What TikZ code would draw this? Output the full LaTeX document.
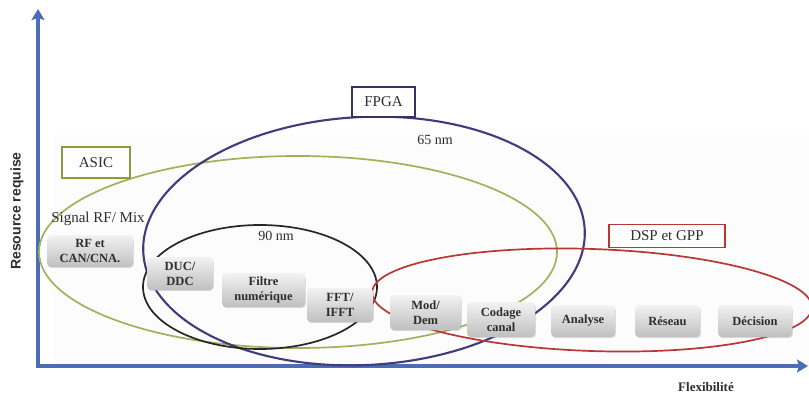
\documentclass[tikz,border=0pt]{standalone}
\usepackage{fontspec}
\setmainfont{Liberation Serif}
\newfontfamily\axisfont{Liberation Sans}
\usetikzlibrary{arrows.meta,shadows}

\definecolor{axisblue}{HTML}{4A6DB5}
\definecolor{asicgreen}{HTML}{A0B25A}
\definecolor{asicframe}{HTML}{8C9B3E}
\definecolor{fpganavy}{HTML}{3E3C7C}
\definecolor{fpgaframe}{HTML}{3A2F66}
\definecolor{dspred}{HTML}{B93636}
\definecolor{inktext}{HTML}{2E2E2E}

\tikzset{
  axisline/.style={draw=axisblue, line width=3.4pt, -{Stealth[length=11pt,width=13pt,inset=2pt]}},
  block/.style={rounded corners=4pt, top color=gray!10, bottom color=gray!50, draw=none,
    drop shadow={opacity=0.25, shadow xshift=0.8pt, shadow yshift=-1.2pt},
    font=\fontsize{12.5}{15}\selectfont\bfseries, text=inktext, align=center, inner sep=0pt},
  tagbox/.style={fill=white, line width=1.8pt, inner sep=0pt,
    font=\fontsize{15}{17}\selectfont, text=inktext},
  plain/.style={text=inktext, inner sep=0pt},
}

\begin{document}
\begin{tikzpicture}[x=1pt, y=-1pt]
  % canvas and faint plot background
  \fill[white] (0,0) rectangle (809,396);
  \useasboundingbox (0,0) rectangle (809,396);
  \fill[black!1.2] (53,135) rectangle (809,367);

  % axes
  \coordinate (o) at (38,367);
  \coordinate (ytop) at (38,9);
  \coordinate (xend) at (808,366);
  \draw[axisline] (38,368) -- (ytop);
  \draw[axisline] (37,366) -- (xend);

  % technology domains
  \draw[asicgreen, line width=1.7pt] (298,252) ellipse (259 and 96);
  \draw[fpganavy, line width=2.1pt, rotate around={3:(364,241)}] (364,241) ellipse (221 and 124);
  \draw[black!85, line width=1.7pt] (260,287) ellipse (117 and 62);
  \draw[dspred, line width=1.7pt, rotate around={-2:(592,300)}] (592,300) ellipse (220 and 51);

  % domain tags
  \node[tagbox, draw=asicframe, minimum width=68pt, minimum height=31pt] (asic) at (96,162.5) {ASIC};
  \node[tagbox, draw=fpgaframe, minimum width=63pt, minimum height=30pt] (fpga) at (383.5,102) {FPGA};
  \node[tagbox, draw=dspred, minimum width=116pt, minimum height=23pt] (dsp) at (667,236) {DSP et GPP};

  % free labels
  \node[plain, font=\fontsize{15}{17}\selectfont] (sig) at (98,219) {Signal RF/ Mix};
  \node[plain, font=\fontsize{14}{16}\selectfont] (n90) at (276,236) {90 nm};
  \node[plain, font=\fontsize{14}{16}\selectfont] (n65) at (435,140) {65 nm};

  % processing chain
  \node[block, minimum width=86pt, minimum height=32pt] (rf)  at (90,251)    {RF et\\CAN/CNA.};
  \node[block, minimum width=66pt, minimum height=33pt] (duc) at (180,273.5) {DUC/\\DDC};
  \node[block, minimum width=83pt, minimum height=34pt] (fil) at (263.5,290) {Filtre\\numérique};
  \node[block, minimum width=66pt, minimum height=34pt] (fft) at (340,305)   {FFT/\\IFFT};
  \node[block, minimum width=71pt, minimum height=35pt] (mod) at (425.5,312.5) {Mod/\\Dem};
  \node[block, minimum width=68pt, minimum height=35pt] (cod) at (501,319.5) {Codage\\canal};
  \node[block, minimum width=64pt, minimum height=32pt] (ana) at (583,321)   {Analyse};
  \node[block, minimum width=65pt, minimum height=32pt] (res) at (667.5,321) {Réseau};
  \node[block, minimum width=74pt, minimum height=32pt] (dec) at (755,321)   {Décision};

  % axis titles
  \node[plain, rotate=90, font=\axisfont\bfseries\fontsize{14}{16}\selectfont] (ylab) at (17,211) {Resource requise};
  \node[plain, font=\bfseries\fontsize{13}{15}\selectfont] (xlab) at (706,387) {Flexibilité};
\end{tikzpicture}
\end{document}
